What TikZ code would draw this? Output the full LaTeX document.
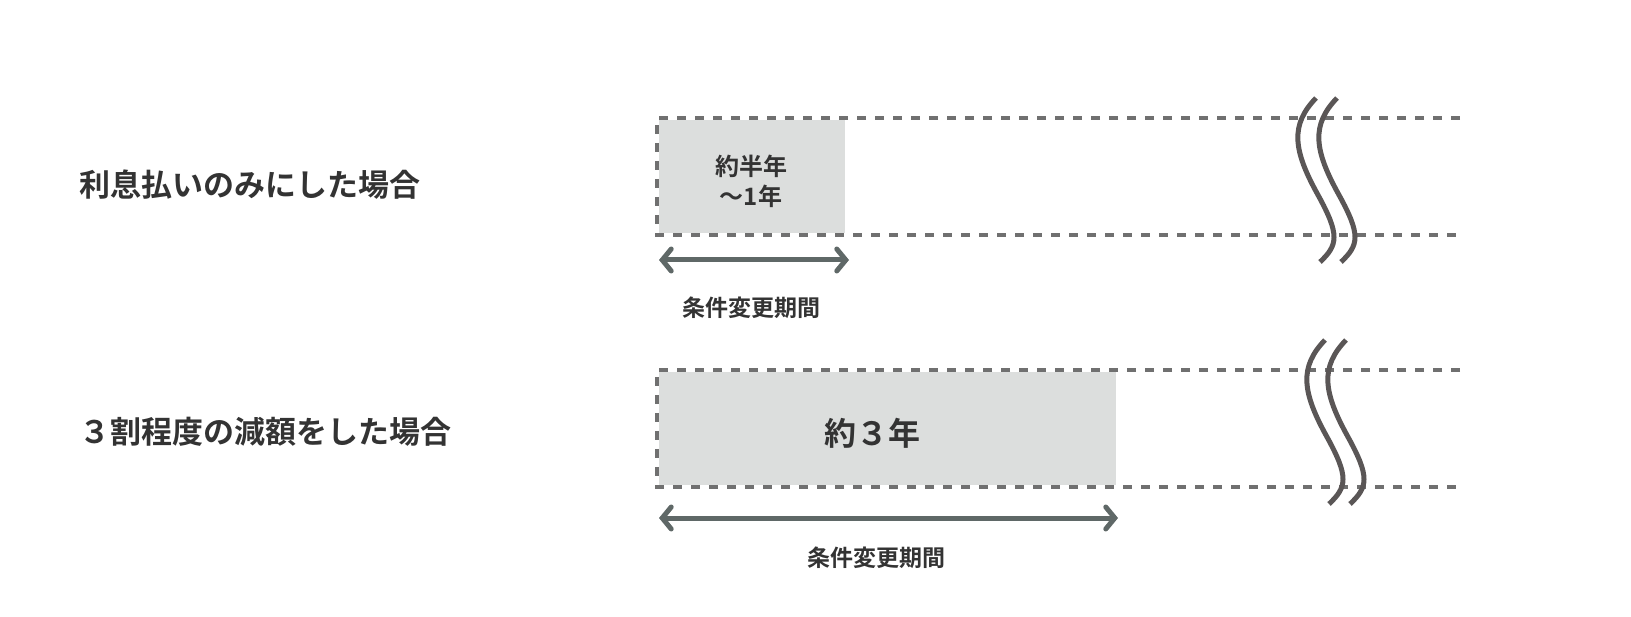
\documentclass[tikz,border=0pt]{standalone}
\usepackage{fontspec}
\setmainfont{Noto Sans CJK JP}[BoldFont={* Bold}]
\usetikzlibrary{arrows.meta}
\definecolor{dashcol}{HTML}{707070}
\definecolor{boxfill}{HTML}{DCDEDD}
\definecolor{arrcol}{HTML}{5F6867}
\definecolor{wavcol}{HTML}{5A5656}
\definecolor{txtcol}{HTML}{333333}
\tikzset{
  dline/.style={draw=dashcol, line width=4pt, dash pattern=on 9pt off 9pt},
  period/.style={draw=arrcol, line width=5pt, {Straight Barb[length=9pt,width=22pt,line cap=round]}-{Straight Barb[length=9pt,width=22pt,line cap=round]}},
  wave/.style={draw=wavcol, line width=5pt},
  lbl/.style={text=txtcol, font=\bfseries\fontsize{31}{31}\selectfont, anchor=west},
  plbl/.style={text=txtcol, font=\bfseries\fontsize{23}{23}\selectfont},
}
\begin{document}
\begin{tikzpicture}[x=1pt,y=-1pt]
\useasboundingbox (0,0) rectangle (1631,617);
% row 1
\fill[boxfill] (659,120) rectangle (845,233);
\draw[dline] (1460,118) -- (657,118) -- (657,235) -- (1460,235);
\node[text=txtcol,font=\bfseries\fontsize{24}{30}\selectfont,align=center] (t1) at (751,181) {約半年\\～1年};
\node[lbl] (l1) at (76,185) {利息払いのみにした場合};
\coordinate (a1) at (659,260); \coordinate (b1) at (849,260);
\draw[period] (a1) -- (b1);
\node[plbl] (p1) at (751,308) {条件変更期間};
\draw[wave] (1316,98) .. controls (1290,125) and (1293,150) .. (1318,195) .. controls (1340,235) and (1338,245) .. (1320,262);
\draw[wave] (1337,98) .. controls (1311,125) and (1314,150) .. (1339,195) .. controls (1361,235) and (1359,245) .. (1341,262);
% row 2
\fill[boxfill] (659,372) rectangle (1116,485);
\draw[dline] (1460,370) -- (657,370) -- (657,487) -- (1460,487);
\node[text=txtcol,font=\bfseries\fontsize{32}{32}\selectfont] (t2) at (872,433) {約３年};
\node[lbl] (l2) at (76,432) {３割程度の減額をした場合};
\coordinate (a2) at (659,518); \coordinate (b2) at (1118,518);
\draw[period] (a2) -- (b2);
\node[plbl] (p2) at (876,558) {条件変更期間};
\draw[wave] (1325,340) .. controls (1299,367) and (1302,392) .. (1327,437) .. controls (1349,477) and (1347,487) .. (1329,504);
\draw[wave] (1346,340) .. controls (1320,367) and (1323,392) .. (1348,437) .. controls (1370,477) and (1368,487) .. (1350,504);
\end{tikzpicture}
\end{document}
